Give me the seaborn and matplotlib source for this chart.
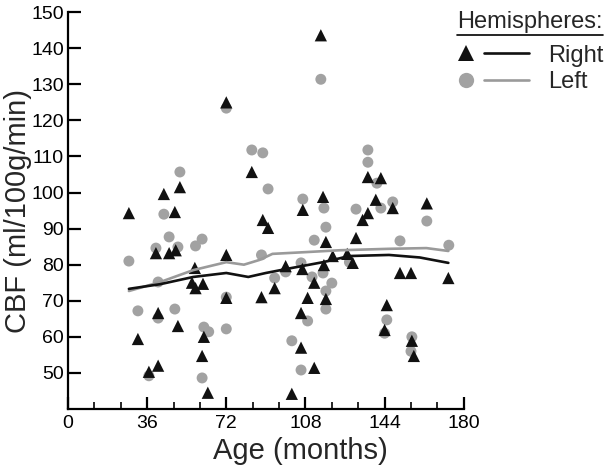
import matplotlib
matplotlib.use("Agg")
import matplotlib.pyplot as plt
from matplotlib.lines import Line2D
from matplotlib.legend_handler import HandlerBase
from matplotlib.ticker import MultipleLocator
import seaborn as sns
import pandas as pd

# Right hemisphere (triangles)
right_age = [27.7, 31.8, 36.8, 40, 41, 41, 43.6, 46, 48.6, 49, 50.9, 50, 57.7, 56.4,
             61.4, 58, 61.8, 61, 63.6, 72, 72, 72, 83.6, 88.6, 91, 88, 94, 99, 101.8,
             106.8, 106.6, 106, 106, 109, 112, 112, 115, 116, 117.3, 116.4, 117.3,
             120.4, 127, 129.5, 131, 134, 136.4, 136.4, 140, 142.3, 147.7, 145, 144,
             151, 156, 156.4, 157.3, 163.2, 173]
right_cbf = [94.3, 59.4, 50.3, 83.2, 66.6, 52, 99.6, 83.2, 94.6, 84, 101.5, 63, 79.1, 75,
             74.7, 73.5, 60, 54.7, 44.5, 125, 82.7, 70.8, 105.7, 92.4, 90.2, 71, 73.5,
             79.6, 44.2, 95.2, 78.8, 66.6, 57, 70.8, 75, 51.4, 143.6, 98.8, 86.3, 79.9,
             70.5, 82.4, 83, 80.5, 87.4, 92.4, 94.3, 104.3, 98, 104, 95.7, 68.8, 61.9,
             77.7, 77.7, 58.9, 54.7, 97, 76.3]

# Left hemisphere (circles)
left_age = [27.7, 31.8, 36.8, 40, 41, 41, 43.6, 46, 48.6, 50, 50.9, 58, 61, 61.8, 64, 61,
            72, 72, 72, 83.6, 88.6, 91, 88, 94, 99, 101.8, 106.8, 106, 106, 109, 111,
            112, 115, 116.4, 117.3, 116, 120, 117.3, 117.3, 128, 131, 136.4, 136.4,
            140.5, 142.3, 147.7, 144, 145, 151, 156.4, 156, 163.2, 173.2]
left_cbf = [81, 67.2, 49.2, 84.6, 75.2, 65.2, 94, 87.7, 67.7, 84.9, 105.7, 85.2, 87.1,
            62.7, 61.4, 48.6, 123.4, 71, 62.2, 111.8, 111, 101, 82.7, 76.3, 78, 58.9,
            98.2, 80.5, 50.8, 64.4, 76.6, 86.8, 131.4, 95.7, 90.4, 77.7, 74.9, 72.7,
            67.7, 80.7, 95.4, 111.8, 108.4, 102.6, 95.7, 97.4, 61, 64.7, 86.6, 60, 56,
            92.1, 85.4]

# smoothed fits
right_fit_age = [27.7, 42, 57, 72, 82, 90, 101, 116, 128, 146, 160, 173]
right_fit_cbf = [73.3, 74.6, 76.6, 77.7, 76.6, 77.7, 79, 80.7, 82.4, 82.7, 82, 80.5]
left_fit_age = [27.7, 42, 57, 72, 80, 87, 93, 108.6, 123.6, 146, 163, 173]
left_fit_cbf = [72.7, 75.2, 78.5, 80.7, 80.0, 81.3, 83, 83.5, 84, 84.4, 84.6, 83.8]

BLACK = "#111111"
GRAY = "#a2a2a2"
LINE_GRAY = "#9a9a9a"


class MarkerLineHandler(HandlerBase):
    def create_artists(self, legend, orig_handle, xdescent, ydescent, width,
                       height, fontsize, trans):
        marker, color, lcolor, ms = orig_handle
        y = height / 2 - ydescent
        m = Line2D([0.11 * width - xdescent], [y], marker=marker, color=color,
                   markersize=ms, linestyle="None", markeredgewidth=0)
        ln = Line2D([0.36 * width - xdescent, 0.97 * width - xdescent], [y, y],
                    color=lcolor, lw=1.9)
        m.set_transform(trans)
        ln.set_transform(trans)
        return [m, ln]


sns.set_style("ticks")
plt.rcParams["font.family"] = ["Liberation Sans", "DejaVu Sans"]

right_df = pd.DataFrame({"age": right_age, "cbf": right_cbf})
left_df = pd.DataFrame({"age": left_age, "cbf": left_cbf})
right_fit = pd.DataFrame({"age": right_fit_age, "cbf": right_fit_cbf})
left_fit = pd.DataFrame({"age": left_fit_age, "cbf": left_fit_cbf})

fig = plt.figure(figsize=(6.07, 4.69), dpi=100)
ax = fig.add_axes([0.112, 0.128, 0.652, 0.846])

sns.scatterplot(data=left_df, x="age", y="cbf", marker="o", color=GRAY, s=62,
                edgecolor="none", ax=ax, zorder=2)
sns.scatterplot(data=right_df, x="age", y="cbf", marker="^", color=BLACK, s=78,
                edgecolor="none", ax=ax, zorder=3)
sns.lineplot(data=left_fit, x="age", y="cbf", color=LINE_GRAY, lw=1.9, ax=ax,
             zorder=4)
sns.lineplot(data=right_fit, x="age", y="cbf", color=BLACK, lw=1.9, ax=ax,
             zorder=4)

ax.set_xlim(0, 180)
ax.set_ylim(40, 150)
ax.set_xticks(range(0, 181, 36))
ax.xaxis.set_minor_locator(MultipleLocator(12))
ax.set_yticks(range(50, 151, 10))
sns.despine(ax=ax)
for s in ["left", "bottom"]:
    ax.spines[s].set_linewidth(1.6)
    ax.spines[s].set_color("black")
ax.tick_params(axis="both", which="major", direction="in", length=9, width=1.6,
               labelsize=14, colors="black")
ax.tick_params(axis="x", which="minor", direction="in", length=5, width=1.4)
ax.tick_params(axis="x", which="major", pad=4)
ax.tick_params(axis="y", which="major", pad=3)
ax.set_xlabel("Age (months)", fontsize=21)
ax.set_ylabel("CBF (ml/100g/min)", fontsize=21)
ax.xaxis.set_label_coords(0.588, -0.07)
ax.yaxis.set_label_coords(-0.09, 0.5)

handles = [("^", BLACK, BLACK, 11), ("o", GRAY, LINE_GRAY, 11)]
fig.legend(handles, ["Right", "Left"], loc="upper left",
           bbox_to_anchor=(0.7545, 0.905), frameon=False, fontsize=17,
           handlelength=3.1, handletextpad=0.7, labelspacing=0.2,
           borderpad=0, borderaxespad=0,
           handler_map={tuple: MarkerLineHandler()})

title = fig.text(457 / 607, 1 - 22 / 469, "Hemispheres:", fontsize=17,
                 va="center", ha="left")
fig.canvas.draw()
bb = title.get_window_extent().transformed(fig.transFigure.inverted())
fig.add_artist(Line2D([bb.x0, bb.x1], [bb.y0 - 0.004, bb.y0 - 0.004],
                      color="black", lw=1.2, transform=fig.transFigure))

fig.savefig("out.png", dpi=100)
